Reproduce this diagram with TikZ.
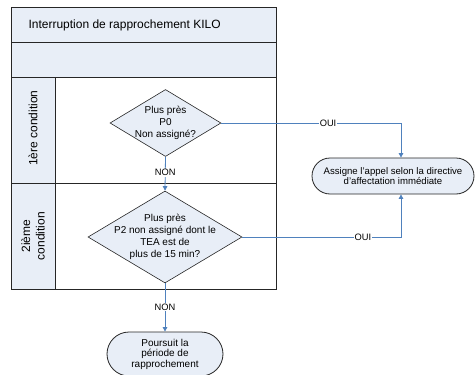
\documentclass[tikz,border=0pt]{standalone}
\usepackage{fontspec}
\setmainfont{Liberation Sans}
\usetikzlibrary{shapes.geometric,shapes.misc,arrows.meta}
\definecolor{paleblue}{RGB}{232,238,247}
\definecolor{flowblue}{RGB}{79,129,189}
\begin{document}
\begin{tikzpicture}[x=1pt,y=-1pt,
  poolline/.style={draw=black!85,line width=0.9pt},
  decision/.style={diamond,draw=black!85,line width=0.6pt,fill=paleblue,inner sep=0pt},
  terminal/.style={rounded rectangle,draw=black!85,line width=0.8pt,fill=paleblue,inner sep=0pt},
  boxtext/.style={align=center,font=\fontsize{10}{12}\selectfont,inner sep=0pt},
  termtext/.style={align=center,font=\fontsize{9.6}{10.5}\selectfont,inner sep=0pt},
  flow/.style={draw=flowblue,line width=0.8pt},
  flowarrow/.style={flow,-{Triangle[length=4.5pt,width=4.5pt]}},
  flowlabel/.style={fill=white,font=\fontsize{9.3}{10}\selectfont,inner sep=0.8pt,text=black},
  lanelabel/.style={rotate=90,align=center,font=\fontsize{12}{14.5}\selectfont}]
\useasboundingbox (0,0) rectangle (475,375);

% pool: header, empty band, label column, two lanes
\path[fill=paleblue] (11,7) rectangle (276,77);
\path[fill=paleblue] (11,77) rectangle (55,289);
\draw[poolline] (11,7) rectangle (276,289);
\draw[poolline] (11,42) -- (276,42);
\draw[poolline] (11,77) -- (276,77);
\draw[poolline] (11,183) -- (276,183);
\draw[poolline] (55,77) -- (55,289);

\node[anchor=west,font=\fontsize{12}{14}\selectfont] (title) at (25,25) {Interruption de rapprochement KILO};
\node[lanelabel] (lane1) at (33,128) {1ère condition};
\node[lanelabel] (lane2) at (33,236) {2ième\\condition};

% decisions
\node[decision,minimum width=111,minimum height=67] (d1) at (165.5,123) {};
\node[boxtext] (d1t) at (d1.center) {Plus près\\P0\\Non assigné?};
\node[decision,minimum width=154,minimum height=92] (d2) at (165,237) {};
\node[boxtext] (d2t) at (d2.center) {Plus près\\P2 non assigné dont le\\TEA est de\\plus de 15 min?};

% terminals
\node[terminal,minimum width=162,minimum height=36] (t1) at (393,176) {};
\node[termtext] (t1t) at (t1.center) {Assigne l'appel selon la directive\\d'affectation immédiate};
\node[terminal,minimum width=116,minimum height=44] (t2) at (165,354) {};
\node[termtext,font=\fontsize{10}{10.5}\selectfont] (t2t) at (t2.center) {Poursuit la\\période de\\rapprochement};

\coordinate (jx) at (401,0);

% connectors
\draw[flowarrow] (d1.south) -- node[flowlabel,pos=0.47] {NON} (d2.north);
\draw[flowarrow] (d2.south) -- node[flowlabel,pos=0.49] {NON} (t2.north);
\draw[flowarrow] (d1.east) -- node[flowlabel,pos=0.594] {OUI} (jx |- d1.east) -- (jx |- t1.north);
\draw[flowarrow] (d2.east) -- node[flowlabel,pos=0.76] {OUI} (jx |- d2.east) -- (jx |- t1.south);
\end{tikzpicture}
\end{document}
